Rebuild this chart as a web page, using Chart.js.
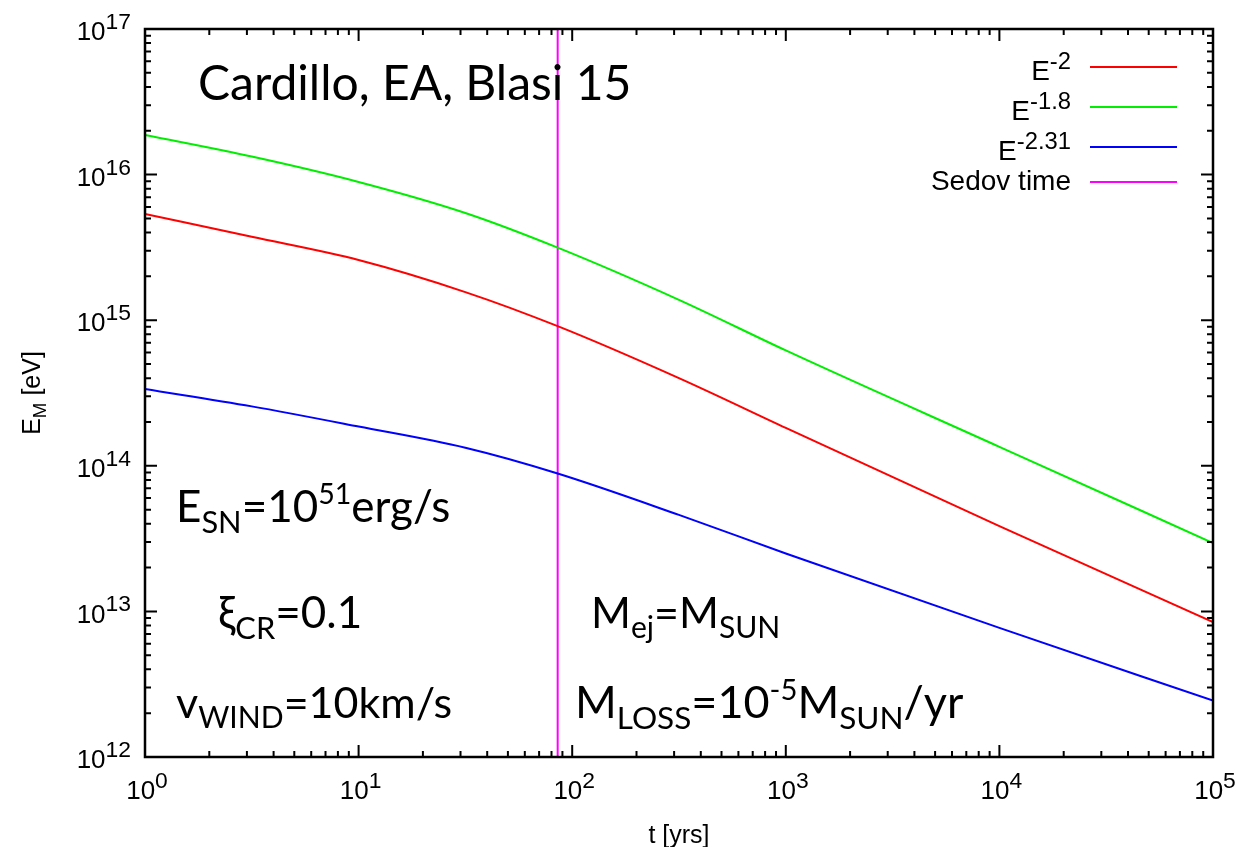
<!DOCTYPE html>
<html>
<head>
<meta charset="utf-8">
<script src="https://cdn.jsdelivr.net/npm/chart.js@4.4.0/dist/chart.umd.min.js"></script>
<style>
  html, body { margin: 0; padding: 0; background: #fff; }
  #wrap { width: 1238px; height: 847px; position: relative; }
</style>
</head>
<body>
<div id="wrap"><canvas id="c" width="1238" height="847"></canvas></div>
<script>
// time in years, E_M in eV
var tYears = [1, 3.16, 10, 31.6, 85.5, 316, 1000, 10000, 100000];
var eSlope2 = [5.36e15, 3.74e15, 2.59e15, 1.56e15, 9.1e14, 4.0e14, 1.82e14, 3.85e13, 8.46e12];
var eSlope18 = [1.87e16, 1.33e16, 8.9e15, 5.45e15, 3.15e15, 1.38e15, 6.2e14, 1.35e14, 2.95e13];
var eSlope231 = [3.37e14, 2.56e14, 1.86e14, 1.33e14, 8.85e13, 4.6e13, 2.5e13, 7.7e12, 2.44e12];
var sedovTime = 85.5;

var xDecades = [0, 1, 2, 3, 4, 5];
var yDecades = [12, 13, 14, 15, 16, 17];
var legendBase = ['E', 'E', 'E', 'Sedov time'];
var legendExp = ['-2', '-1.8', '-2.31', ''];
var colors = ['#ff0000', '#00ee00', '#0000ff', '#ff00ff'];

function pts(ys) {
    return tYears.map(function(t, i) { return { x: t, y: ys[i] }; });
}

var tickFont = '"Liberation Sans", Arial, sans-serif';
var noteFont = '"Comic Sans MS", Lato, sans-serif';

// draw text made of normal / sub / sup parts
function rich(ctx, x, y, parts, size, align) {
    var w = 0;
    parts.forEach(function(p) {
        var fs = p.s ? size * p.k : size;
        ctx.font = fs + 'px ' + p.f;
        p.w = ctx.measureText(p.t).width;
        p.fs = fs;
        w += p.w;
    });
    var cx = align === 'right' ? x - w : (align === 'center' ? x - w / 2 : x);
    parts.forEach(function(p) {
        ctx.font = p.fs + 'px ' + p.f;
        var dy = p.s === 'sub' ? size * 0.24 : (p.s === 'sup' ? -size * 0.4 : 0);
        ctx.fillText(p.t, cx, y + dy);
        cx += p.w;
    });
}
function P(t, s, k, f) { return { t: t, s: s, k: k || 0.7, f: f || noteFont }; }

var framePlugin = {
    id: 'frame',
    afterDraw: function(chart) {
        var ctx = chart.ctx, a = chart.chartArea;
        var xs = chart.scales.x, ys = chart.scales.y;
        ctx.save();
        ctx.strokeStyle = '#000';
        ctx.fillStyle = '#000';
        ctx.lineWidth = 2;
        ctx.beginPath();
        xDecades.forEach(function(d) {
            for (var m = 1; m <= 9; m++) {
                if (d === 5 && m > 1) break;
                var px = xs.getPixelForValue(m * Math.pow(10, d));
                var len = m === 1 ? 12 : 6;
                ctx.moveTo(px, a.bottom); ctx.lineTo(px, a.bottom - len);
                ctx.moveTo(px, a.top); ctx.lineTo(px, a.top + len);
            }
        });
        yDecades.forEach(function(d) {
            for (var m = 1; m <= 9; m++) {
                if (d === 17 && m > 1) break;
                var py = ys.getPixelForValue(m * Math.pow(10, d));
                var len = m === 1 ? 12 : 6;
                ctx.moveTo(a.left, py); ctx.lineTo(a.left + len, py);
                ctx.moveTo(a.right, py); ctx.lineTo(a.right - len, py);
            }
        });
        ctx.stroke();
        ctx.lineWidth = 2.5;
        ctx.strokeRect(a.left, a.top, a.right - a.left, a.bottom - a.top);

        // tick labels
        ctx.textBaseline = 'middle';
        xDecades.forEach(function(d) {
            var px = xs.getPixelForValue(Math.pow(10, d));
            rich(ctx, px + 2, a.bottom + 35, [P('10', null, 1, tickFont), P(String(d), 'sup', 0.88, tickFont)], 26, 'center');
        });
        yDecades.forEach(function(d) {
            var py = ys.getPixelForValue(Math.pow(10, d));
            rich(ctx, 131, py + 4, [P('10', null, 1, tickFont), P(String(d), 'sup', 0.88, tickFont)], 26, 'right');
        });

        // axis titles
        ctx.textBaseline = 'alphabetic';
        rich(ctx, (a.left + a.right) / 2, 843, [P('t [yrs]', null, 1, tickFont)], 25, 'center');
        ctx.save();
        ctx.translate(40, (a.top + a.bottom) / 2);
        ctx.rotate(-Math.PI / 2);
        rich(ctx, 0, 0, [P('E', null, 1, tickFont), P('M', 'sub', 0.75, tickFont), P(' [eV]', null, 1, tickFont)], 25, 'center');
        ctx.restore();

        // legend
        var rowY = [67, 107, 147, 182];
        var baseY = [80, 120, 160, 190];
        legendBase.forEach(function(b, i) {
            var parts = [P(b, null, 1, tickFont)];
            if (legendExp[i]) parts.push(P(legendExp[i], 'sup', 0.85, tickFont));
            rich(ctx, 1071, baseY[i], parts, 28, 'right');
            ctx.strokeStyle = colors[i];
            ctx.lineWidth = 2;
            ctx.beginPath();
            ctx.moveTo(1090, rowY[i]); ctx.lineTo(1177, rowY[i]);
            ctx.stroke();
        });

        // annotations
        ctx.fillStyle = '#000';
        rich(ctx, 198, 100, [P('Cardillo, EA, Blasi 15')], 48, 'left');
        rich(ctx, 176, 522, [P('E'), P('SN', 'sub'), P('=10'), P('51', 'sup', 0.65), P('erg/s')], 44, 'left');
        rich(ctx, 218, 628, [P('\u03be'), P('CR', 'sub'), P('=0.1')], 44, 'left');
        rich(ctx, 176, 718, [P('v'), P('WIND', 'sub'), P('=10km/s')], 43, 'left');
        rich(ctx, 591, 628, [P('M'), P('ej', 'sub'), P('=M'), P('SUN', 'sub')], 43, 'left');
        rich(ctx, 575, 718, [P('M'), P('LOSS', 'sub'), P('=10'), P('-5', 'sup', 0.65), P('M'), P('SUN', 'sub'), P('/yr')], 45, 'left');
        ctx.restore();
    }
};

function lineSet(label, ys, color) {
    return { label: label, data: pts(ys), borderColor: color, borderWidth: 2, pointRadius: 0, cubicInterpolationMode: 'monotone', fill: false };
}

new Chart(document.getElementById('c'), {
    type: 'line',
    data: {
        datasets: [
            lineSet('E^-2', eSlope2, colors[0]),
            lineSet('E^-1.8', eSlope18, colors[1]),
            lineSet('E^-2.31', eSlope231, colors[2]),
            { label: 'Sedov time', data: [{ x: sedovTime, y: 1e12 }, { x: sedovTime, y: 1e17 }], borderColor: colors[3], borderWidth: 2, pointRadius: 0, fill: false }
        ]
    },
    options: {
        responsive: false,
        animation: false,
        layout: { padding: { left: 145, right: 25, top: 29, bottom: 90 } },
        plugins: { legend: { display: false }, tooltip: { enabled: false } },
        scales: {
            x: { type: 'logarithmic', min: 1, max: 1e5, display: false },
            y: { type: 'logarithmic', min: 1e12, max: 1e17, display: false }
        }
    },
    plugins: [framePlugin]
});
</script>
</body>
</html>
